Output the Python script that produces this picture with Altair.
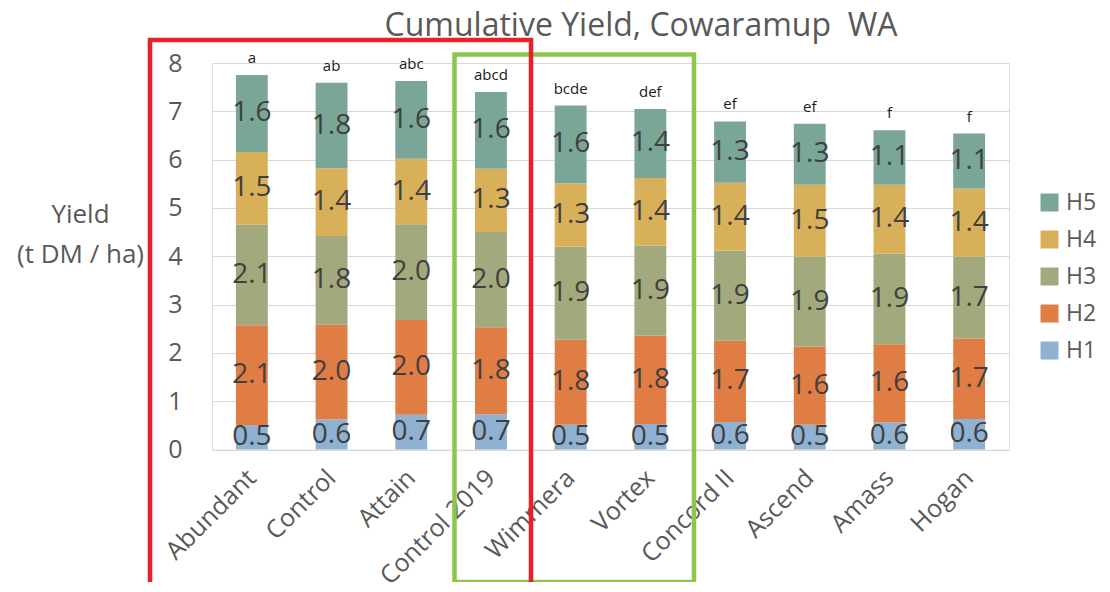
import altair as alt
import pandas as pd

cultivars = ["Abundant", "Control", "Attain", "Control 2019", "Wimmera",
             "Vortex", "Concord II", "Ascend", "Amass", "Hogan"]
letters = ["a", "ab", "abc", "abcd", "bcde", "def", "ef", "ef", "f", "f"]
harvests = ["H1", "H2", "H3", "H4", "H5"]
legend_order = ["H5", "H4", "H3", "H2", "H1"]
h1 = [0.50, 0.62, 0.72, 0.73, 0.51, 0.53, 0.57, 0.51, 0.56, 0.63]
h2 = [2.07, 1.96, 1.96, 1.80, 1.76, 1.83, 1.68, 1.62, 1.62, 1.66]
h3 = [2.08, 1.84, 1.98, 1.97, 1.93, 1.86, 1.87, 1.86, 1.87, 1.70]
h4 = [1.51, 1.40, 1.36, 1.31, 1.31, 1.40, 1.40, 1.49, 1.43, 1.41]
h5 = [1.59, 1.77, 1.61, 1.59, 1.61, 1.43, 1.27, 1.26, 1.13, 1.14]
colors = ["#8FB1D2", "#DF7D44", "#A2A97D", "#D8B05A", "#7AA698"]
y_ticks = [0, 1, 2, 3, 4, 5, 6, 7, 8]
title_text = "Cumulative Yield, Cowaramup\u00a0\u00a0WA"
y_title = ["Yield", "(t DM / ha)"]

FONT = "Open Sans"
W, H = 797, 386.5

series = [h1, h2, h3, h4, h5]
rows = []
for hi, (hname, vals) in enumerate(zip(harvests, series)):
    for c, v in zip(cultivars, vals):
        rows.append({"cultivar": c, "harvest": hname, "value": v, "idx": hi})
df = pd.DataFrame(rows)

totals = [sum(s[i] for s in series) for i in range(len(cultivars))]
df_letters = pd.DataFrame({"cultivar": cultivars, "letter": letters, "total": totals})

xenc = alt.X("cultivar:N", sort=cultivars, title=None,
             scale=alt.Scale(paddingInner=0.6, paddingOuter=0.3),
             axis=alt.Axis(labelAngle=-45, labelAlign="right", labelBaseline="middle",
                           labelFontSize=25, labelColor="#595959", labelFont=FONT,
                           labelPadding=24, ticks=False, domain=False, grid=False))

yscale = alt.Scale(domain=[0, 8], nice=False)

base = alt.Chart(df).transform_stack(
    stack="value", as_=["y0", "y1"], groupby=["cultivar"],
    sort=[alt.SortField("idx", order="ascending")]
).transform_calculate(mid="(datum.y0 + datum.y1) / 2")

bars = base.mark_bar().encode(
    x=xenc,
    y=alt.Y("y0:Q", scale=yscale, title=y_title,
            axis=alt.Axis(values=y_ticks, labelFontSize=25, labelColor="#595959",
                          labelFont=FONT, labelPadding=30, ticks=False, tickSize=0,
                          domain=False, gridColor="#D9D9D9", gridWidth=1,
                          titleAngle=0, titleAlign="center", titleBaseline="middle",
                          titleX=-132, titleY=151, titleFontSize=26,
                          titleFontWeight="normal", titleColor="#595959",
                          titleFont=FONT, titleLineHeight=40)),
    y2="y1:Q",
    color=alt.Color("harvest:N",
                    scale=alt.Scale(domain=harvests, range=colors),
                    legend=alt.Legend(title=None, orient="none", legendX=826, legendY=128,
                                      values=legend_order,
                                      symbolType="square", symbolSize=324,
                                      symbolStrokeWidth=0, labelFontSize=23,
                                      labelColor="#595959", labelFont=FONT,
                                      labelOffset=5, rowPadding=13, padding=0)),
)

labels = base.mark_text(fontSize=28, font=FONT, color="#404040",
                        baseline="middle", align="center").encode(
    x=alt.X("cultivar:N", sort=cultivars),
    y=alt.Y("mid:Q", scale=yscale),
    text=alt.Text("value:Q", format=".1f"),
)

sig = alt.Chart(df_letters).mark_text(fontSize=15, font=FONT, color="#1A1A1A",
                                      baseline="alphabetic", dy=-12).encode(
    x=alt.X("cultivar:N", sort=cultivars),
    y=alt.Y("total:Q", scale=yscale),
    text="letter:N",
)

one = pd.DataFrame({"k": [0]})
title = alt.Chart(one).mark_text(fontSize=32, font=FONT, color="#595959",
                                 align="center", baseline="alphabetic").encode(
    x=alt.value(429), y=alt.value(-27), text=alt.value(title_text))

red_box = alt.Chart(one).mark_rect(fill=None, fillOpacity=0, stroke="#E8202A",
                                   strokeWidth=4.5).encode(
    x=alt.value(-62), x2=alt.value(319), y=alt.value(-23), y2=alt.value(560))
green_box = alt.Chart(one).mark_rect(fill=None, fillOpacity=0, stroke="#8DC64A",
                                     strokeWidth=4.5).encode(
    x=alt.value(242.5), x2=alt.value(482), y=alt.value(-8.5), y2=alt.value(519))

chart = alt.layer(bars, labels, sig, title, green_box, red_box).properties(
    width=W, height=H,
    autosize=alt.AutoSizeParams(type="none"),
    padding={"left": 204, "top": 55, "right": 93, "bottom": 132},
).configure_view(stroke=None).configure(font=FONT)

chart.save("out.html", embed_options={"renderer": "svg", "actions": False})
